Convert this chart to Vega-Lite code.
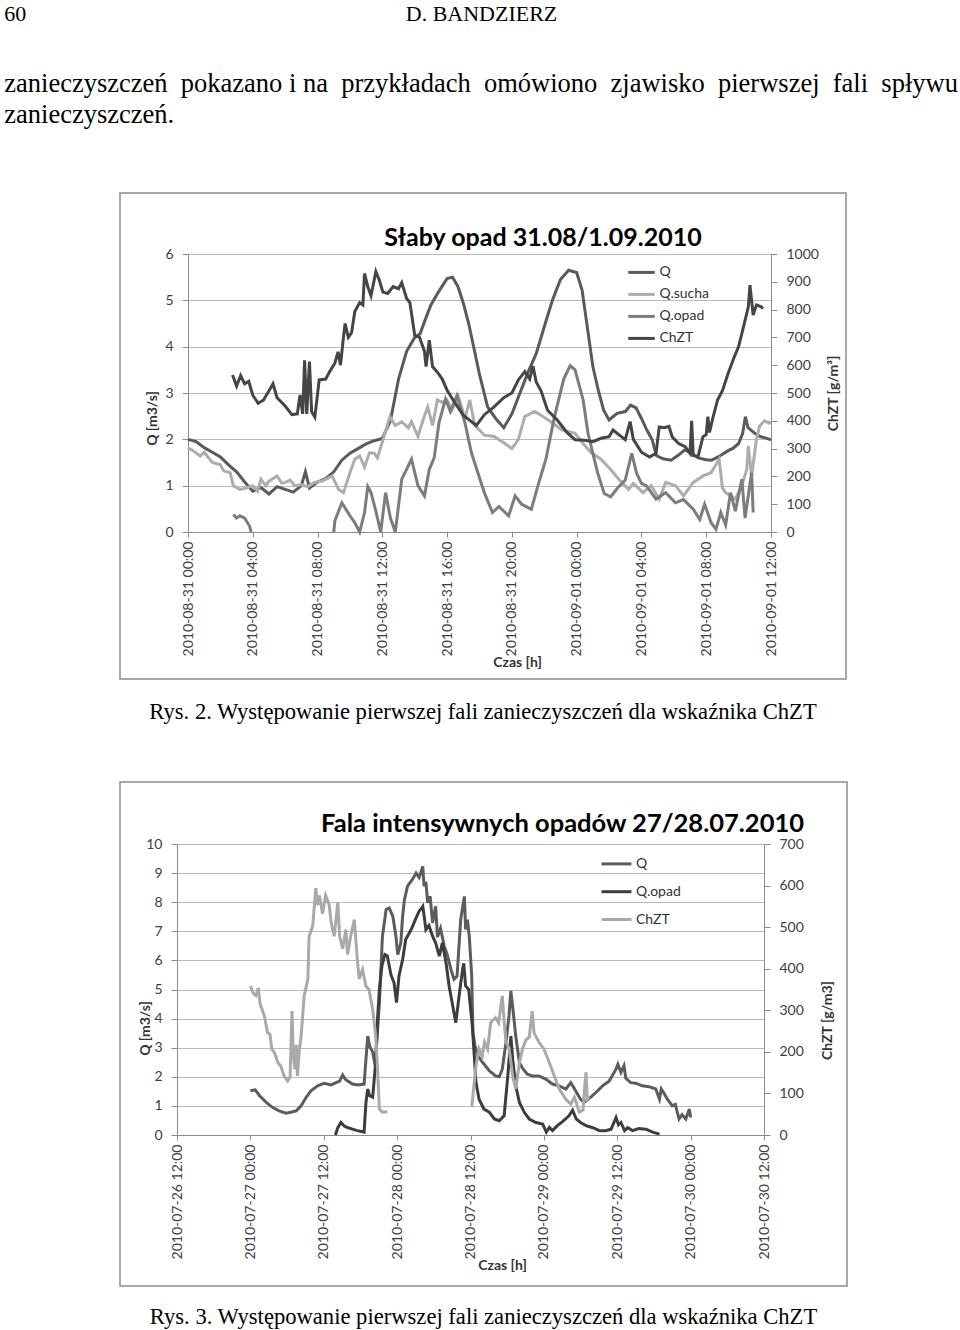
{
"$schema": "https://vega.github.io/schema/vega-lite/v6.json",
"background": "white",
"padding": {"left": 4, "top": 2, "right": 0, "bottom": 0},
"config": {
 "font": "Lato",
 "view": {"stroke": "#8c8c8c", "strokeWidth": 1.5},
 "axis": {"labelFont": "Lato", "labelFontSize": 14, "labelColor": "#404040", "titleFont": "Lato", "titleFontSize": 14, "titleFontWeight": "bold", "titleColor": "#333333", "domainColor": "#8c8c8c", "tickColor": "#8c8c8c", "gridColor": "#bababa", "tickSize": 6},
 "legend": {"labelFont": "Lato", "labelFontSize": 14, "labelColor": "#333333"},
 "line": {"strokeWidth": 3}
},
"title": {
 "text": "60\u00a0\u00a0\u00a0\u00a0\u00a0\u00a0\u00a0\u00a0\u00a0\u00a0\u00a0\u00a0\u00a0\u00a0\u00a0\u00a0\u00a0\u00a0\u00a0\u00a0\u00a0\u00a0\u00a0\u00a0\u00a0\u00a0\u00a0\u00a0\u00a0\u00a0\u00a0\u00a0\u00a0\u00a0\u00a0\u00a0\u00a0\u00a0\u00a0\u00a0\u00a0\u00a0\u00a0\u00a0\u00a0\u00a0\u00a0\u00a0\u00a0\u00a0\u00a0\u00a0\u00a0\u00a0\u00a0\u00a0\u00a0\u00a0\u00a0\u00a0\u00a0\u00a0\u00a0\u00a0\u00a0\u00a0\u00a0\u00a0\u00a0D. BANDZIERZ",
 "subtitle": ["zanieczyszczeń \u00a0pokazano i na \u00a0przykładach \u00a0omówiono \u00a0zjawisko \u00a0pierwszej \u00a0fali \u00a0spływu", "zanieczyszczeń."],
 "anchor": "start", "dx": -115,
 "font": "Liberation Serif", "fontSize": 22, "fontWeight": "normal", "color": "black",
 "subtitleFont": "Liberation Serif", "subtitleFontSize": 26.5, "subtitleColor": "black",
 "subtitleLineHeight": 31, "subtitlePadding": 45, "offset": 63
},
"spacing": 57,
"resolve": {"scale": {"color": "independent"}, "legend": {"color": "independent"}},
"datasets": {
 "d1": [
{"t":"2010-08-31T00:00","s":"Q","v":2.00},{"t":"2010-08-31T00:30","s":"Q","v":1.95},{"t":"2010-08-31T01:00","s":"Q","v":1.82},{"t":"2010-08-31T01:30","s":"Q","v":1.72},{"t":"2010-08-31T02:00","s":"Q","v":1.62},{"t":"2010-08-31T02:30","s":"Q","v":1.45},{"t":"2010-08-31T03:00","s":"Q","v":1.30},{"t":"2010-08-31T03:30","s":"Q","v":1.08},{"t":"2010-08-31T04:00","s":"Q","v":0.88},{"t":"2010-08-31T04:30","s":"Q","v":0.96},{"t":"2010-08-31T05:00","s":"Q","v":0.82},{"t":"2010-08-31T05:30","s":"Q","v":0.98},{"t":"2010-08-31T06:00","s":"Q","v":0.92},{"t":"2010-08-31T06:30","s":"Q","v":0.86},{"t":"2010-08-31T07:00","s":"Q","v":1.00},{"t":"2010-08-31T07:15","s":"Q","v":1.30},{"t":"2010-08-31T07:30","s":"Q","v":0.95},{"t":"2010-08-31T08:00","s":"Q","v":1.08},{"t":"2010-08-31T08:30","s":"Q","v":1.15},{"t":"2010-08-31T09:00","s":"Q","v":1.30},{"t":"2010-08-31T09:30","s":"Q","v":1.55},{"t":"2010-08-31T10:00","s":"Q","v":1.70},{"t":"2010-08-31T10:30","s":"Q","v":1.80},{"t":"2010-08-31T11:00","s":"Q","v":1.90},{"t":"2010-08-31T11:30","s":"Q","v":1.97},{"t":"2010-08-31T12:00","s":"Q","v":2.02},{"t":"2010-08-31T12:30","s":"Q","v":2.40},{"t":"2010-08-31T13:00","s":"Q","v":3.30},{"t":"2010-08-31T13:30","s":"Q","v":3.90},{"t":"2010-08-31T14:00","s":"Q","v":4.20},{"t":"2010-08-31T14:20","s":"Q","v":4.28},{"t":"2010-08-31T14:40","s":"Q","v":4.60},{"t":"2010-08-31T15:00","s":"Q","v":4.90},{"t":"2010-08-31T15:30","s":"Q","v":5.20},{"t":"2010-08-31T16:00","s":"Q","v":5.47},{"t":"2010-08-31T16:20","s":"Q","v":5.50},{"t":"2010-08-31T16:40","s":"Q","v":5.30},{"t":"2010-08-31T17:00","s":"Q","v":4.94},{"t":"2010-08-31T17:20","s":"Q","v":4.50},{"t":"2010-08-31T17:40","s":"Q","v":3.95},{"t":"2010-08-31T18:00","s":"Q","v":3.40},{"t":"2010-08-31T18:30","s":"Q","v":2.70},{"t":"2010-08-31T19:00","s":"Q","v":2.45},{"t":"2010-08-31T19:30","s":"Q","v":2.25},{"t":"2010-08-31T20:00","s":"Q","v":2.55},{"t":"2010-08-31T20:30","s":"Q","v":3.00},{"t":"2010-08-31T21:00","s":"Q","v":3.45},{"t":"2010-08-31T21:30","s":"Q","v":3.85},{"t":"2010-08-31T22:00","s":"Q","v":4.43},{"t":"2010-08-31T22:30","s":"Q","v":5.00},{"t":"2010-08-31T23:00","s":"Q","v":5.45},{"t":"2010-08-31T23:30","s":"Q","v":5.65},{"t":"2010-09-01T00:00","s":"Q","v":5.60},{"t":"2010-09-01T00:20","s":"Q","v":5.22},{"t":"2010-09-01T00:40","s":"Q","v":4.40},{"t":"2010-09-01T01:00","s":"Q","v":3.57},{"t":"2010-09-01T01:20","s":"Q","v":3.06},{"t":"2010-09-01T01:40","s":"Q","v":2.63},{"t":"2010-09-01T02:00","s":"Q","v":2.42},{"t":"2010-09-01T02:30","s":"Q","v":2.56},{"t":"2010-09-01T03:00","s":"Q","v":2.60},{"t":"2010-09-01T03:20","s":"Q","v":2.74},{"t":"2010-09-01T03:40","s":"Q","v":2.68},{"t":"2010-09-01T04:00","s":"Q","v":2.45},{"t":"2010-09-01T04:20","s":"Q","v":2.20},{"t":"2010-09-01T04:40","s":"Q","v":1.99},{"t":"2010-09-01T04:55","s":"Q","v":1.65},{"t":"2010-09-01T05:20","s":"Q","v":1.58},{"t":"2010-09-01T05:50","s":"Q","v":1.55},{"t":"2010-09-01T06:15","s":"Q","v":1.65},{"t":"2010-09-01T06:40","s":"Q","v":1.77},{"t":"2010-09-01T07:00","s":"Q","v":1.72},{"t":"2010-09-01T07:30","s":"Q","v":1.60},{"t":"2010-09-01T08:00","s":"Q","v":1.56},{"t":"2010-09-01T08:20","s":"Q","v":1.55},{"t":"2010-09-01T08:50","s":"Q","v":1.64},{"t":"2010-09-01T09:20","s":"Q","v":1.75},{"t":"2010-09-01T09:40","s":"Q","v":1.81},{"t":"2010-09-01T10:00","s":"Q","v":1.91},{"t":"2010-09-01T10:15","s":"Q","v":2.13},{"t":"2010-09-01T10:25","s":"Q","v":2.49},{"t":"2010-09-01T10:35","s":"Q","v":2.25},{"t":"2010-09-01T11:00","s":"Q","v":2.13},{"t":"2010-09-01T11:20","s":"Q","v":2.06},{"t":"2010-09-01T11:45","s":"Q","v":2.02},{"t":"2010-09-01T12:00","s":"Q","v":1.99},
{"t":"2010-08-31T00:00","s":"Q.sucha","v":1.82},{"t":"2010-08-31T00:20","s":"Q.sucha","v":1.75},{"t":"2010-08-31T00:45","s":"Q.sucha","v":1.64},{"t":"2010-08-31T01:00","s":"Q.sucha","v":1.72},{"t":"2010-08-31T01:30","s":"Q.sucha","v":1.50},{"t":"2010-08-31T02:00","s":"Q.sucha","v":1.45},{"t":"2010-08-31T02:12","s":"Q.sucha","v":1.32},{"t":"2010-08-31T02:36","s":"Q.sucha","v":1.28},{"t":"2010-08-31T02:48","s":"Q.sucha","v":1.00},{"t":"2010-08-31T03:12","s":"Q.sucha","v":0.92},{"t":"2010-08-31T03:36","s":"Q.sucha","v":0.95},{"t":"2010-08-31T04:00","s":"Q.sucha","v":1.00},{"t":"2010-08-31T04:18","s":"Q.sucha","v":0.88},{"t":"2010-08-31T04:30","s":"Q.sucha","v":1.14},{"t":"2010-08-31T04:48","s":"Q.sucha","v":1.00},{"t":"2010-08-31T05:00","s":"Q.sucha","v":1.10},{"t":"2010-08-31T05:30","s":"Q.sucha","v":1.21},{"t":"2010-08-31T05:48","s":"Q.sucha","v":1.05},{"t":"2010-08-31T06:00","s":"Q.sucha","v":1.07},{"t":"2010-08-31T06:18","s":"Q.sucha","v":1.12},{"t":"2010-08-31T06:36","s":"Q.sucha","v":1.00},{"t":"2010-08-31T07:00","s":"Q.sucha","v":1.02},{"t":"2010-08-31T07:24","s":"Q.sucha","v":0.98},{"t":"2010-08-31T07:48","s":"Q.sucha","v":1.07},{"t":"2010-08-31T08:18","s":"Q.sucha","v":1.10},{"t":"2010-08-31T08:54","s":"Q.sucha","v":1.21},{"t":"2010-08-31T09:18","s":"Q.sucha","v":0.92},{"t":"2010-08-31T09:36","s":"Q.sucha","v":0.85},{"t":"2010-08-31T10:00","s":"Q.sucha","v":1.28},{"t":"2010-08-31T10:18","s":"Q.sucha","v":1.57},{"t":"2010-08-31T10:36","s":"Q.sucha","v":1.64},{"t":"2010-08-31T10:54","s":"Q.sucha","v":1.40},{"t":"2010-08-31T11:12","s":"Q.sucha","v":1.71},{"t":"2010-08-31T11:30","s":"Q.sucha","v":1.70},{"t":"2010-08-31T11:42","s":"Q.sucha","v":1.60},{"t":"2010-08-31T12:06","s":"Q.sucha","v":2.06},{"t":"2010-08-31T12:28","s":"Q.sucha","v":2.49},{"t":"2010-08-31T12:48","s":"Q.sucha","v":2.30},{"t":"2010-08-31T13:12","s":"Q.sucha","v":2.38},{"t":"2010-08-31T13:36","s":"Q.sucha","v":2.25},{"t":"2010-08-31T13:48","s":"Q.sucha","v":2.38},{"t":"2010-08-31T14:12","s":"Q.sucha","v":2.06},{"t":"2010-08-31T14:30","s":"Q.sucha","v":2.40},{"t":"2010-08-31T14:48","s":"Q.sucha","v":2.70},{"t":"2010-08-31T15:06","s":"Q.sucha","v":2.30},{"t":"2010-08-31T15:24","s":"Q.sucha","v":2.85},{"t":"2010-08-31T15:42","s":"Q.sucha","v":2.80},{"t":"2010-08-31T16:00","s":"Q.sucha","v":2.85},{"t":"2010-08-31T16:18","s":"Q.sucha","v":2.63},{"t":"2010-08-31T16:42","s":"Q.sucha","v":2.92},{"t":"2010-08-31T17:06","s":"Q.sucha","v":2.45},{"t":"2010-08-31T17:24","s":"Q.sucha","v":2.85},{"t":"2010-08-31T17:42","s":"Q.sucha","v":2.31},{"t":"2010-08-31T18:18","s":"Q.sucha","v":2.09},{"t":"2010-08-31T18:54","s":"Q.sucha","v":2.06},{"t":"2010-08-31T19:34","s":"Q.sucha","v":1.91},{"t":"2010-08-31T20:00","s":"Q.sucha","v":1.80},{"t":"2010-08-31T20:24","s":"Q.sucha","v":2.00},{"t":"2010-08-31T20:48","s":"Q.sucha","v":2.49},{"t":"2010-08-31T21:24","s":"Q.sucha","v":2.60},{"t":"2010-08-31T21:48","s":"Q.sucha","v":2.52},{"t":"2010-08-31T22:24","s":"Q.sucha","v":2.38},{"t":"2010-08-31T23:06","s":"Q.sucha","v":2.20},{"t":"2010-08-31T23:54","s":"Q.sucha","v":2.13},{"t":"2010-09-01T00:18","s":"Q.sucha","v":1.95},{"t":"2010-09-01T00:54","s":"Q.sucha","v":1.71},{"t":"2010-09-01T01:30","s":"Q.sucha","v":1.57},{"t":"2010-09-01T02:06","s":"Q.sucha","v":1.35},{"t":"2010-09-01T02:36","s":"Q.sucha","v":1.14},{"t":"2010-09-01T03:12","s":"Q.sucha","v":0.92},{"t":"2010-09-01T03:30","s":"Q.sucha","v":1.05},{"t":"2010-09-01T04:06","s":"Q.sucha","v":0.85},{"t":"2010-09-01T04:36","s":"Q.sucha","v":1.00},{"t":"2010-09-01T05:06","s":"Q.sucha","v":0.71},{"t":"2010-09-01T05:30","s":"Q.sucha","v":1.07},{"t":"2010-09-01T06:06","s":"Q.sucha","v":1.00},{"t":"2010-09-01T06:36","s":"Q.sucha","v":0.78},{"t":"2010-09-01T07:12","s":"Q.sucha","v":1.07},{"t":"2010-09-01T07:48","s":"Q.sucha","v":1.21},{"t":"2010-09-01T08:18","s":"Q.sucha","v":1.28},{"t":"2010-09-01T08:48","s":"Q.sucha","v":1.57},{"t":"2010-09-01T09:00","s":"Q.sucha","v":0.95},{"t":"2010-09-01T09:12","s":"Q.sucha","v":0.85},{"t":"2010-09-01T09:48","s":"Q.sucha","v":0.71},{"t":"2010-09-01T10:12","s":"Q.sucha","v":1.00},{"t":"2010-09-01T10:30","s":"Q.sucha","v":1.35},{"t":"2010-09-01T10:36","s":"Q.sucha","v":1.86},{"t":"2010-09-01T10:48","s":"Q.sucha","v":1.20},{"t":"2010-09-01T11:06","s":"Q.sucha","v":2.00},{"t":"2010-09-01T11:18","s":"Q.sucha","v":2.29},{"t":"2010-09-01T11:36","s":"Q.sucha","v":2.40},{"t":"2010-09-01T11:54","s":"Q.sucha","v":2.35},{"t":"2010-09-01T12:00","s":"Q.sucha","v":2.38},
{"t":"2010-08-31T02:48","s":"Q.opad","v":0.38,"g":1},{"t":"2010-08-31T03:00","s":"Q.opad","v":0.30,"g":1},{"t":"2010-08-31T03:12","s":"Q.opad","v":0.35,"g":1},{"t":"2010-08-31T03:30","s":"Q.opad","v":0.30,"g":1},{"t":"2010-08-31T03:48","s":"Q.opad","v":0.13,"g":1},{"t":"2010-08-31T03:54","s":"Q.opad","v":0.00,"g":1},
{"t":"2010-08-31T09:00","s":"Q.opad","v":0.00,"g":2},{"t":"2010-08-31T09:04","s":"Q.opad","v":0.24,"g":2},{"t":"2010-08-31T09:30","s":"Q.opad","v":0.63,"g":2},{"t":"2010-08-31T10:00","s":"Q.opad","v":0.35,"g":2},{"t":"2010-08-31T10:18","s":"Q.opad","v":0.20,"g":2},{"t":"2010-08-31T10:36","s":"Q.opad","v":0.00,"g":2},{"t":"2010-08-31T10:54","s":"Q.opad","v":0.42,"g":2},{"t":"2010-08-31T11:06","s":"Q.opad","v":0.98,"g":2},{"t":"2010-08-31T11:18","s":"Q.opad","v":0.85,"g":2},{"t":"2010-08-31T11:36","s":"Q.opad","v":0.45,"g":2},{"t":"2010-08-31T11:54","s":"Q.opad","v":0.00,"g":2},{"t":"2010-08-31T12:12","s":"Q.opad","v":0.85,"g":2},{"t":"2010-08-31T12:30","s":"Q.opad","v":0.30,"g":2},{"t":"2010-08-31T12:48","s":"Q.opad","v":0.00,"g":2},{"t":"2010-08-31T13:12","s":"Q.opad","v":1.14,"g":2},{"t":"2010-08-31T13:48","s":"Q.opad","v":1.57,"g":2},{"t":"2010-08-31T14:12","s":"Q.opad","v":1.00,"g":2},{"t":"2010-08-31T14:36","s":"Q.opad","v":0.78,"g":2},{"t":"2010-08-31T14:54","s":"Q.opad","v":1.35,"g":2},{"t":"2010-08-31T15:12","s":"Q.opad","v":1.60,"g":2},{"t":"2010-08-31T15:30","s":"Q.opad","v":2.36,"g":2},{"t":"2010-08-31T15:54","s":"Q.opad","v":2.87,"g":2},{"t":"2010-08-31T16:12","s":"Q.opad","v":2.60,"g":2},{"t":"2010-08-31T16:36","s":"Q.opad","v":2.94,"g":2},{"t":"2010-08-31T17:06","s":"Q.opad","v":2.36,"g":2},{"t":"2010-08-31T17:30","s":"Q.opad","v":1.71,"g":2},{"t":"2010-08-31T17:54","s":"Q.opad","v":1.28,"g":2},{"t":"2010-08-31T18:18","s":"Q.opad","v":0.85,"g":2},{"t":"2010-08-31T18:48","s":"Q.opad","v":0.42,"g":2},{"t":"2010-08-31T19:12","s":"Q.opad","v":0.55,"g":2},{"t":"2010-08-31T19:48","s":"Q.opad","v":0.35,"g":2},{"t":"2010-08-31T20:12","s":"Q.opad","v":0.78,"g":2},{"t":"2010-08-31T20:36","s":"Q.opad","v":0.60,"g":2},{"t":"2010-08-31T21:12","s":"Q.opad","v":0.49,"g":2},{"t":"2010-08-31T21:36","s":"Q.opad","v":0.99,"g":2},{"t":"2010-08-31T22:06","s":"Q.opad","v":1.57,"g":2},{"t":"2010-08-31T22:36","s":"Q.opad","v":2.44,"g":2},{"t":"2010-08-31T23:12","s":"Q.opad","v":3.30,"g":2},{"t":"2010-08-31T23:36","s":"Q.opad","v":3.59,"g":2},{"t":"2010-08-31T23:54","s":"Q.opad","v":3.50,"g":2},{"t":"2010-09-01T00:24","s":"Q.opad","v":2.85,"g":2},{"t":"2010-09-01T00:42","s":"Q.opad","v":2.13,"g":2},{"t":"2010-09-01T01:00","s":"Q.opad","v":1.70,"g":2},{"t":"2010-09-01T01:18","s":"Q.opad","v":1.27,"g":2},{"t":"2010-09-01T01:42","s":"Q.opad","v":0.83,"g":2},{"t":"2010-09-01T02:06","s":"Q.opad","v":0.76,"g":2},{"t":"2010-09-01T02:36","s":"Q.opad","v":0.98,"g":2},{"t":"2010-09-01T03:00","s":"Q.opad","v":1.12,"g":2},{"t":"2010-09-01T03:24","s":"Q.opad","v":1.70,"g":2},{"t":"2010-09-01T03:42","s":"Q.opad","v":1.27,"g":2},{"t":"2010-09-01T04:00","s":"Q.opad","v":1.05,"g":2},{"t":"2010-09-01T04:18","s":"Q.opad","v":1.00,"g":2},{"t":"2010-09-01T04:54","s":"Q.opad","v":0.71,"g":2},{"t":"2010-09-01T05:30","s":"Q.opad","v":0.85,"g":2},{"t":"2010-09-01T06:06","s":"Q.opad","v":0.63,"g":2},{"t":"2010-09-01T06:36","s":"Q.opad","v":0.70,"g":2},{"t":"2010-09-01T07:12","s":"Q.opad","v":0.49,"g":2},{"t":"2010-09-01T07:36","s":"Q.opad","v":0.27,"g":2},{"t":"2010-09-01T07:54","s":"Q.opad","v":0.60,"g":2},{"t":"2010-09-01T08:18","s":"Q.opad","v":0.20,"g":2},{"t":"2010-09-01T08:36","s":"Q.opad","v":0.06,"g":2},{"t":"2010-09-01T08:54","s":"Q.opad","v":0.42,"g":2},{"t":"2010-09-01T09:12","s":"Q.opad","v":0.15,"g":2},{"t":"2010-09-01T09:30","s":"Q.opad","v":0.85,"g":2},{"t":"2010-09-01T09:48","s":"Q.opad","v":0.45,"g":2},{"t":"2010-09-01T10:12","s":"Q.opad","v":1.14,"g":2},{"t":"2010-09-01T10:24","s":"Q.opad","v":0.30,"g":2},{"t":"2010-09-01T10:48","s":"Q.opad","v":1.28,"g":2},{"t":"2010-09-01T10:54","s":"Q.opad","v":0.42,"g":2},
{"t":"2010-08-31T02:45","s":"ChZT","v":565},{"t":"2010-08-31T03:00","s":"ChZT","v":525},{"t":"2010-08-31T03:15","s":"ChZT","v":563},{"t":"2010-08-31T03:30","s":"ChZT","v":533},{"t":"2010-08-31T03:45","s":"ChZT","v":542},{"t":"2010-08-31T04:00","s":"ChZT","v":492},{"t":"2010-08-31T04:20","s":"ChZT","v":463},{"t":"2010-08-31T04:40","s":"ChZT","v":475},{"t":"2010-08-31T05:00","s":"ChZT","v":508},{"t":"2010-08-31T05:15","s":"ChZT","v":533},{"t":"2010-08-31T05:30","s":"ChZT","v":483},{"t":"2010-08-31T06:00","s":"ChZT","v":453},{"t":"2010-08-31T06:25","s":"ChZT","v":422},{"t":"2010-08-31T06:45","s":"ChZT","v":425},{"t":"2010-08-31T06:55","s":"ChZT","v":493},{"t":"2010-08-31T07:05","s":"ChZT","v":425},{"t":"2010-08-31T07:12","s":"ChZT","v":618},{"t":"2010-08-31T07:20","s":"ChZT","v":425},{"t":"2010-08-31T07:30","s":"ChZT","v":613},{"t":"2010-08-31T07:38","s":"ChZT","v":433},{"t":"2010-08-31T07:50","s":"ChZT","v":413},{"t":"2010-08-31T08:06","s":"ChZT","v":547},{"t":"2010-08-31T08:30","s":"ChZT","v":550},{"t":"2010-08-31T08:45","s":"ChZT","v":577},{"t":"2010-08-31T09:04","s":"ChZT","v":607},{"t":"2010-08-31T09:16","s":"ChZT","v":648},{"t":"2010-08-31T09:25","s":"ChZT","v":600},{"t":"2010-08-31T09:35","s":"ChZT","v":692},{"t":"2010-08-31T09:42","s":"ChZT","v":750},{"t":"2010-08-31T09:54","s":"ChZT","v":700},{"t":"2010-08-31T10:06","s":"ChZT","v":717},{"t":"2010-08-31T10:18","s":"ChZT","v":793},{"t":"2010-08-31T10:36","s":"ChZT","v":825},{"t":"2010-08-31T10:48","s":"ChZT","v":817},{"t":"2010-08-31T10:54","s":"ChZT","v":930},{"t":"2010-08-31T11:06","s":"ChZT","v":883},{"t":"2010-08-31T11:18","s":"ChZT","v":850},{"t":"2010-08-31T11:30","s":"ChZT","v":907},{"t":"2010-08-31T11:36","s":"ChZT","v":937},{"t":"2010-08-31T11:48","s":"ChZT","v":908},{"t":"2010-08-31T12:02","s":"ChZT","v":863},{"t":"2010-08-31T12:20","s":"ChZT","v":858},{"t":"2010-08-31T12:40","s":"ChZT","v":883},{"t":"2010-08-31T13:00","s":"ChZT","v":875},{"t":"2010-08-31T13:12","s":"ChZT","v":897},{"t":"2010-08-31T13:30","s":"ChZT","v":840},{"t":"2010-08-31T13:42","s":"ChZT","v":825},{"t":"2010-08-31T14:00","s":"ChZT","v":708},{"t":"2010-08-31T14:18","s":"ChZT","v":700},{"t":"2010-08-31T14:36","s":"ChZT","v":650},{"t":"2010-08-31T14:42","s":"ChZT","v":595},{"t":"2010-08-31T14:54","s":"ChZT","v":690},{"t":"2010-08-31T15:06","s":"ChZT","v":595},{"t":"2010-08-31T15:24","s":"ChZT","v":575},{"t":"2010-08-31T15:42","s":"ChZT","v":550},{"t":"2010-08-31T16:00","s":"ChZT","v":510},{"t":"2010-08-31T16:30","s":"ChZT","v":463},{"t":"2010-08-31T17:00","s":"ChZT","v":420},{"t":"2010-08-31T17:30","s":"ChZT","v":397},{"t":"2010-08-31T17:48","s":"ChZT","v":383},{"t":"2010-08-31T18:18","s":"ChZT","v":422},{"t":"2010-08-31T18:54","s":"ChZT","v":450},{"t":"2010-08-31T19:30","s":"ChZT","v":483},{"t":"2010-08-31T20:00","s":"ChZT","v":500},{"t":"2010-08-31T20:24","s":"ChZT","v":547},{"t":"2010-08-31T20:48","s":"ChZT","v":577},{"t":"2010-08-31T21:06","s":"ChZT","v":550},{"t":"2010-08-31T21:18","s":"ChZT","v":597},{"t":"2010-08-31T21:30","s":"ChZT","v":540},{"t":"2010-08-31T21:48","s":"ChZT","v":508},{"t":"2010-08-31T22:12","s":"ChZT","v":438},{"t":"2010-08-31T22:48","s":"ChZT","v":403},{"t":"2010-08-31T23:24","s":"ChZT","v":358},{"t":"2010-08-31T23:54","s":"ChZT","v":332},{"t":"2010-09-01T00:30","s":"ChZT","v":330},{"t":"2010-09-01T01:00","s":"ChZT","v":325},{"t":"2010-09-01T01:30","s":"ChZT","v":337},{"t":"2010-09-01T02:00","s":"ChZT","v":343},{"t":"2010-09-01T02:15","s":"ChZT","v":367},{"t":"2010-09-01T02:36","s":"ChZT","v":350},{"t":"2010-09-01T03:00","s":"ChZT","v":332},{"t":"2010-09-01T03:18","s":"ChZT","v":397},{"t":"2010-09-01T03:30","s":"ChZT","v":333},{"t":"2010-09-01T04:00","s":"ChZT","v":287},{"t":"2010-09-01T04:30","s":"ChZT","v":270},{"t":"2010-09-01T04:54","s":"ChZT","v":283},{"t":"2010-09-01T05:06","s":"ChZT","v":378},{"t":"2010-09-01T05:24","s":"ChZT","v":375},{"t":"2010-09-01T05:42","s":"ChZT","v":380},{"t":"2010-09-01T05:54","s":"ChZT","v":342},{"t":"2010-09-01T06:18","s":"ChZT","v":318},{"t":"2010-09-01T06:42","s":"ChZT","v":307},{"t":"2010-09-01T07:00","s":"ChZT","v":283},{"t":"2010-09-01T07:06","s":"ChZT","v":400},{"t":"2010-09-01T07:12","s":"ChZT","v":275},{"t":"2010-09-01T07:30","s":"ChZT","v":272},{"t":"2010-09-01T07:48","s":"ChZT","v":343},{"t":"2010-09-01T08:00","s":"ChZT","v":350},{"t":"2010-09-01T08:06","s":"ChZT","v":415},{"t":"2010-09-01T08:12","s":"ChZT","v":358},{"t":"2010-09-01T08:24","s":"ChZT","v":408},{"t":"2010-09-01T08:42","s":"ChZT","v":475},{"t":"2010-09-01T09:00","s":"ChZT","v":508},{"t":"2010-09-01T09:21","s":"ChZT","v":570},{"t":"2010-09-01T09:42","s":"ChZT","v":625},{"t":"2010-09-01T10:00","s":"ChZT","v":667},{"t":"2010-09-01T10:18","s":"ChZT","v":738},{"t":"2010-09-01T10:36","s":"ChZT","v":810},{"t":"2010-09-01T10:42","s":"ChZT","v":888},{"t":"2010-09-01T10:54","s":"ChZT","v":780},{"t":"2010-09-01T11:06","s":"ChZT","v":817},{"t":"2010-09-01T11:24","s":"ChZT","v":810},{"t":"2010-09-01T11:30","s":"ChZT","v":803}
 ],
 "d2": [
{"t":"2010-07-27T00:00","s":"Q","v":1.52},{"t":"2010-07-27T00:48","s":"Q","v":1.55},{"t":"2010-07-27T01:30","s":"Q","v":1.35},{"t":"2010-07-27T02:36","s":"Q","v":1.12},{"t":"2010-07-27T03:36","s":"Q","v":0.95},{"t":"2010-07-27T04:42","s":"Q","v":0.83},{"t":"2010-07-27T05:48","s":"Q","v":0.75},{"t":"2010-07-27T06:36","s":"Q","v":0.78},{"t":"2010-07-27T07:30","s":"Q","v":0.83},{"t":"2010-07-27T08:18","s":"Q","v":1.00},{"t":"2010-07-27T09:06","s":"Q","v":1.29},{"t":"2010-07-27T09:54","s":"Q","v":1.52},{"t":"2010-07-27T11:00","s":"Q","v":1.69},{"t":"2010-07-27T12:06","s":"Q","v":1.78},{"t":"2010-07-27T13:12","s":"Q","v":1.72},{"t":"2010-07-27T14:00","s":"Q","v":1.80},{"t":"2010-07-27T14:36","s":"Q","v":1.85},{"t":"2010-07-27T15:06","s":"Q","v":2.06},{"t":"2010-07-27T15:36","s":"Q","v":1.90},{"t":"2010-07-27T16:42","s":"Q","v":1.75},{"t":"2010-07-27T17:36","s":"Q","v":1.72},{"t":"2010-07-27T18:36","s":"Q","v":1.75},{"t":"2010-07-27T18:54","s":"Q","v":2.60},{"t":"2010-07-27T19:12","s":"Q","v":3.40},{"t":"2010-07-27T19:30","s":"Q","v":3.05},{"t":"2010-07-27T20:00","s":"Q","v":2.85},{"t":"2010-07-27T20:24","s":"Q","v":2.40},{"t":"2010-07-27T20:48","s":"Q","v":3.60},{"t":"2010-07-27T21:06","s":"Q","v":4.55},{"t":"2010-07-27T21:36","s":"Q","v":6.83},{"t":"2010-07-27T22:12","s":"Q","v":7.75},{"t":"2010-07-27T22:42","s":"Q","v":7.80},{"t":"2010-07-27T23:18","s":"Q","v":7.52},{"t":"2010-07-27T23:48","s":"Q","v":6.83},{"t":"2010-07-28T00:06","s":"Q","v":6.20},{"t":"2010-07-28T00:36","s":"Q","v":6.60},{"t":"2010-07-28T00:54","s":"Q","v":7.52},{"t":"2010-07-28T01:12","s":"Q","v":8.09},{"t":"2010-07-28T01:42","s":"Q","v":8.55},{"t":"2010-07-28T02:30","s":"Q","v":8.78},{"t":"2010-07-28T03:06","s":"Q","v":9.00},{"t":"2010-07-28T03:36","s":"Q","v":8.85},{"t":"2010-07-28T04:12","s":"Q","v":9.23},{"t":"2010-07-28T04:24","s":"Q","v":8.55},{"t":"2010-07-28T04:42","s":"Q","v":8.70},{"t":"2010-07-28T05:00","s":"Q","v":7.98},{"t":"2010-07-28T05:24","s":"Q","v":8.20},{"t":"2010-07-28T05:48","s":"Q","v":7.29},{"t":"2010-07-28T06:18","s":"Q","v":7.86},{"t":"2010-07-28T06:36","s":"Q","v":6.80},{"t":"2010-07-28T07:06","s":"Q","v":7.10},{"t":"2010-07-28T07:42","s":"Q","v":6.49},{"t":"2010-07-28T08:12","s":"Q","v":6.20},{"t":"2010-07-28T08:48","s":"Q","v":5.69},{"t":"2010-07-28T09:18","s":"Q","v":5.35},{"t":"2010-07-28T09:48","s":"Q","v":5.45},{"t":"2010-07-28T10:24","s":"Q","v":7.41},{"t":"2010-07-28T11:00","s":"Q","v":8.20},{"t":"2010-07-28T11:12","s":"Q","v":7.06},{"t":"2010-07-28T11:30","s":"Q","v":7.40},{"t":"2010-07-28T11:48","s":"Q","v":6.83},{"t":"2010-07-28T12:12","s":"Q","v":5.46},{"t":"2010-07-28T12:24","s":"Q","v":3.52},{"t":"2010-07-28T12:42","s":"Q","v":3.10},{"t":"2010-07-28T13:12","s":"Q","v":2.72},{"t":"2010-07-28T14:00","s":"Q","v":2.49},{"t":"2010-07-28T15:06","s":"Q","v":2.20},{"t":"2010-07-28T16:06","s":"Q","v":2.03},{"t":"2010-07-28T16:42","s":"Q","v":2.00},{"t":"2010-07-28T17:12","s":"Q","v":2.26},{"t":"2010-07-28T17:48","s":"Q","v":3.18},{"t":"2010-07-28T18:18","s":"Q","v":4.09},{"t":"2010-07-28T18:36","s":"Q","v":4.95},{"t":"2010-07-28T18:54","s":"Q","v":4.40},{"t":"2010-07-28T19:24","s":"Q","v":3.40},{"t":"2010-07-28T20:00","s":"Q","v":2.49},{"t":"2010-07-28T20:30","s":"Q","v":2.30},{"t":"2010-07-28T21:18","s":"Q","v":2.09},{"t":"2010-07-28T22:06","s":"Q","v":2.03},{"t":"2010-07-28T23:12","s":"Q","v":2.03},{"t":"2010-07-29T00:18","s":"Q","v":1.92},{"t":"2010-07-29T01:24","s":"Q","v":1.75},{"t":"2010-07-29T02:30","s":"Q","v":1.69},{"t":"2010-07-29T03:36","s":"Q","v":1.58},{"t":"2010-07-29T04:24","s":"Q","v":1.80},{"t":"2010-07-29T04:54","s":"Q","v":1.62},{"t":"2010-07-29T06:00","s":"Q","v":1.23},{"t":"2010-07-29T06:36","s":"Q","v":1.12},{"t":"2010-07-29T07:24","s":"Q","v":1.25},{"t":"2010-07-29T08:30","s":"Q","v":1.46},{"t":"2010-07-29T09:36","s":"Q","v":1.69},{"t":"2010-07-29T10:42","s":"Q","v":1.86},{"t":"2010-07-29T11:48","s":"Q","v":2.26},{"t":"2010-07-29T12:06","s":"Q","v":2.43},{"t":"2010-07-29T12:36","s":"Q","v":2.15},{"t":"2010-07-29T13:06","s":"Q","v":2.38},{"t":"2010-07-29T13:24","s":"Q","v":1.95},{"t":"2010-07-29T14:12","s":"Q","v":1.80},{"t":"2010-07-29T15:00","s":"Q","v":1.78},{"t":"2010-07-29T16:06","s":"Q","v":1.69},{"t":"2010-07-29T17:12","s":"Q","v":1.66},{"t":"2010-07-29T18:18","s":"Q","v":1.58},{"t":"2010-07-29T18:54","s":"Q","v":1.23},{"t":"2010-07-29T19:12","s":"Q","v":1.58},{"t":"2010-07-29T19:36","s":"Q","v":1.45},{"t":"2010-07-29T20:12","s":"Q","v":1.23},{"t":"2010-07-29T21:00","s":"Q","v":1.00},{"t":"2010-07-29T21:30","s":"Q","v":1.05},{"t":"2010-07-29T22:06","s":"Q","v":0.55},{"t":"2010-07-29T22:36","s":"Q","v":0.70},{"t":"2010-07-29T23:12","s":"Q","v":0.55},{"t":"2010-07-29T23:48","s":"Q","v":0.89},{"t":"2010-07-30T00:00","s":"Q","v":0.60},
{"t":"2010-07-27T13:54","s":"Q.opad","v":0.00},{"t":"2010-07-27T14:18","s":"Q.opad","v":0.25},{"t":"2010-07-27T14:48","s":"Q.opad","v":0.43},{"t":"2010-07-27T15:24","s":"Q.opad","v":0.30},{"t":"2010-07-27T16:00","s":"Q.opad","v":0.25},{"t":"2010-07-27T16:42","s":"Q.opad","v":0.20},{"t":"2010-07-27T17:30","s":"Q.opad","v":0.15},{"t":"2010-07-27T18:36","s":"Q.opad","v":0.10},{"t":"2010-07-27T18:54","s":"Q.opad","v":1.12},{"t":"2010-07-27T19:12","s":"Q.opad","v":1.58},{"t":"2010-07-27T19:30","s":"Q.opad","v":1.35},{"t":"2010-07-27T20:00","s":"Q.opad","v":1.30},{"t":"2010-07-27T20:30","s":"Q.opad","v":2.50},{"t":"2010-07-27T20:48","s":"Q.opad","v":4.00},{"t":"2010-07-27T21:06","s":"Q.opad","v":5.00},{"t":"2010-07-27T21:30","s":"Q.opad","v":5.80},{"t":"2010-07-27T22:00","s":"Q.opad","v":6.20},{"t":"2010-07-27T22:24","s":"Q.opad","v":6.15},{"t":"2010-07-27T23:00","s":"Q.opad","v":5.50},{"t":"2010-07-27T23:30","s":"Q.opad","v":5.23},{"t":"2010-07-27T23:54","s":"Q.opad","v":4.55},{"t":"2010-07-28T00:18","s":"Q.opad","v":5.46},{"t":"2010-07-28T00:54","s":"Q.opad","v":6.03},{"t":"2010-07-28T01:24","s":"Q.opad","v":6.72},{"t":"2010-07-28T02:18","s":"Q.opad","v":7.06},{"t":"2010-07-28T03:06","s":"Q.opad","v":7.46},{"t":"2010-07-28T03:36","s":"Q.opad","v":7.69},{"t":"2010-07-28T04:12","s":"Q.opad","v":7.86},{"t":"2010-07-28T04:30","s":"Q.opad","v":7.40},{"t":"2010-07-28T04:42","s":"Q.opad","v":7.06},{"t":"2010-07-28T05:12","s":"Q.opad","v":7.20},{"t":"2010-07-28T05:48","s":"Q.opad","v":6.83},{"t":"2010-07-28T06:18","s":"Q.opad","v":6.60},{"t":"2010-07-28T06:54","s":"Q.opad","v":6.15},{"t":"2010-07-28T07:24","s":"Q.opad","v":6.60},{"t":"2010-07-28T08:00","s":"Q.opad","v":5.92},{"t":"2010-07-28T08:30","s":"Q.opad","v":5.12},{"t":"2010-07-28T09:06","s":"Q.opad","v":4.43},{"t":"2010-07-28T09:36","s":"Q.opad","v":3.86},{"t":"2010-07-28T10:12","s":"Q.opad","v":4.89},{"t":"2010-07-28T10:42","s":"Q.opad","v":5.69},{"t":"2010-07-28T10:54","s":"Q.opad","v":5.90},{"t":"2010-07-28T11:12","s":"Q.opad","v":5.12},{"t":"2010-07-28T11:42","s":"Q.opad","v":5.00},{"t":"2010-07-28T12:18","s":"Q.opad","v":3.75},{"t":"2010-07-28T12:54","s":"Q.opad","v":1.80},{"t":"2010-07-28T13:24","s":"Q.opad","v":1.23},{"t":"2010-07-28T14:12","s":"Q.opad","v":0.89},{"t":"2010-07-28T15:06","s":"Q.opad","v":0.78},{"t":"2010-07-28T15:54","s":"Q.opad","v":0.55},{"t":"2010-07-28T16:42","s":"Q.opad","v":0.49},{"t":"2010-07-28T17:30","s":"Q.opad","v":0.66},{"t":"2010-07-28T18:06","s":"Q.opad","v":2.03},{"t":"2010-07-28T18:36","s":"Q.opad","v":3.40},{"t":"2010-07-28T18:54","s":"Q.opad","v":2.60},{"t":"2010-07-28T19:24","s":"Q.opad","v":1.69},{"t":"2010-07-28T20:00","s":"Q.opad","v":1.12},{"t":"2010-07-28T20:48","s":"Q.opad","v":0.78},{"t":"2010-07-28T21:36","s":"Q.opad","v":0.55},{"t":"2010-07-28T22:42","s":"Q.opad","v":0.43},{"t":"2010-07-28T23:48","s":"Q.opad","v":0.38},{"t":"2010-07-29T00:24","s":"Q.opad","v":0.10},{"t":"2010-07-29T00:54","s":"Q.opad","v":0.26},{"t":"2010-07-29T01:24","s":"Q.opad","v":0.15},{"t":"2010-07-29T02:12","s":"Q.opad","v":0.32},{"t":"2010-07-29T03:00","s":"Q.opad","v":0.45},{"t":"2010-07-29T04:06","s":"Q.opad","v":0.66},{"t":"2010-07-29T04:42","s":"Q.opad","v":0.85},{"t":"2010-07-29T05:18","s":"Q.opad","v":0.55},{"t":"2010-07-29T06:00","s":"Q.opad","v":0.43},{"t":"2010-07-29T06:54","s":"Q.opad","v":0.32},{"t":"2010-07-29T08:00","s":"Q.opad","v":0.25},{"t":"2010-07-29T09:06","s":"Q.opad","v":0.15},{"t":"2010-07-29T10:06","s":"Q.opad","v":0.15},{"t":"2010-07-29T11:00","s":"Q.opad","v":0.20},{"t":"2010-07-29T11:48","s":"Q.opad","v":0.60},{"t":"2010-07-29T12:12","s":"Q.opad","v":0.35},{"t":"2010-07-29T12:36","s":"Q.opad","v":0.43},{"t":"2010-07-29T13:12","s":"Q.opad","v":0.15},{"t":"2010-07-29T13:42","s":"Q.opad","v":0.25},{"t":"2010-07-29T14:30","s":"Q.opad","v":0.15},{"t":"2010-07-29T15:30","s":"Q.opad","v":0.22},{"t":"2010-07-29T16:42","s":"Q.opad","v":0.20},{"t":"2010-07-29T17:48","s":"Q.opad","v":0.10},{"t":"2010-07-29T18:54","s":"Q.opad","v":0.03},
{"t":"2010-07-27T00:00","s":"ChZT","v":358,"g":1},{"t":"2010-07-27T00:30","s":"ChZT","v":340,"g":1},{"t":"2010-07-27T00:54","s":"ChZT","v":335,"g":1},{"t":"2010-07-27T01:18","s":"ChZT","v":354,"g":1},{"t":"2010-07-27T01:36","s":"ChZT","v":315,"g":1},{"t":"2010-07-27T02:18","s":"ChZT","v":286,"g":1},{"t":"2010-07-27T02:48","s":"ChZT","v":246,"g":1},{"t":"2010-07-27T03:12","s":"ChZT","v":242,"g":1},{"t":"2010-07-27T03:30","s":"ChZT","v":207,"g":1},{"t":"2010-07-27T04:00","s":"ChZT","v":196,"g":1},{"t":"2010-07-27T04:30","s":"ChZT","v":174,"g":1},{"t":"2010-07-27T05:00","s":"ChZT","v":165,"g":1},{"t":"2010-07-27T05:30","s":"ChZT","v":142,"g":1},{"t":"2010-07-27T06:06","s":"ChZT","v":130,"g":1},{"t":"2010-07-27T06:30","s":"ChZT","v":140,"g":1},{"t":"2010-07-27T06:48","s":"ChZT","v":298,"g":1},{"t":"2010-07-27T07:00","s":"ChZT","v":196,"g":1},{"t":"2010-07-27T07:18","s":"ChZT","v":158,"g":1},{"t":"2010-07-27T07:30","s":"ChZT","v":217,"g":1},{"t":"2010-07-27T07:42","s":"ChZT","v":142,"g":1},{"t":"2010-07-27T08:00","s":"ChZT","v":203,"g":1},{"t":"2010-07-27T08:18","s":"ChZT","v":238,"g":1},{"t":"2010-07-27T08:48","s":"ChZT","v":335,"g":1},{"t":"2010-07-27T09:24","s":"ChZT","v":375,"g":1},{"t":"2010-07-27T09:36","s":"ChZT","v":478,"g":1},{"t":"2010-07-27T10:12","s":"ChZT","v":503,"g":1},{"t":"2010-07-27T10:42","s":"ChZT","v":594,"g":1},{"t":"2010-07-27T11:00","s":"ChZT","v":553,"g":1},{"t":"2010-07-27T11:18","s":"ChZT","v":576,"g":1},{"t":"2010-07-27T11:48","s":"ChZT","v":532,"g":1},{"t":"2010-07-27T12:18","s":"ChZT","v":576,"g":1},{"t":"2010-07-27T12:54","s":"ChZT","v":553,"g":1},{"t":"2010-07-27T13:12","s":"ChZT","v":511,"g":1},{"t":"2010-07-27T13:42","s":"ChZT","v":478,"g":1},{"t":"2010-07-27T14:18","s":"ChZT","v":559,"g":1},{"t":"2010-07-27T14:36","s":"ChZT","v":478,"g":1},{"t":"2010-07-27T15:06","s":"ChZT","v":448,"g":1},{"t":"2010-07-27T15:36","s":"ChZT","v":494,"g":1},{"t":"2010-07-27T15:54","s":"ChZT","v":434,"g":1},{"t":"2010-07-27T16:24","s":"ChZT","v":478,"g":1},{"t":"2010-07-27T17:00","s":"ChZT","v":518,"g":1},{"t":"2010-07-27T17:30","s":"ChZT","v":420,"g":1},{"t":"2010-07-27T17:48","s":"ChZT","v":375,"g":1},{"t":"2010-07-27T18:21","s":"ChZT","v":398,"g":1},{"t":"2010-07-27T18:54","s":"ChZT","v":358,"g":1},{"t":"2010-07-27T19:24","s":"ChZT","v":350,"g":1},{"t":"2010-07-27T20:00","s":"ChZT","v":302,"g":1},{"t":"2010-07-27T20:30","s":"ChZT","v":238,"g":1},{"t":"2010-07-27T20:48","s":"ChZT","v":158,"g":1},{"t":"2010-07-27T21:06","s":"ChZT","v":62,"g":1},{"t":"2010-07-27T21:36","s":"ChZT","v":55,"g":1},{"t":"2010-07-27T22:24","s":"ChZT","v":56,"g":1},
{"t":"2010-07-28T12:12","s":"ChZT","v":67,"g":2},{"t":"2010-07-28T12:54","s":"ChZT","v":167,"g":2},{"t":"2010-07-28T13:24","s":"ChZT","v":207,"g":2},{"t":"2010-07-28T13:54","s":"ChZT","v":189,"g":2},{"t":"2010-07-28T14:18","s":"ChZT","v":224,"g":2},{"t":"2010-07-28T14:48","s":"ChZT","v":207,"g":2},{"t":"2010-07-28T15:18","s":"ChZT","v":270,"g":2},{"t":"2010-07-28T16:06","s":"ChZT","v":282,"g":2},{"t":"2010-07-28T16:36","s":"ChZT","v":270,"g":2},{"t":"2010-07-28T17:12","s":"ChZT","v":335,"g":2},{"t":"2010-07-28T17:30","s":"ChZT","v":273,"g":2},{"t":"2010-07-28T17:48","s":"ChZT","v":223,"g":2},{"t":"2010-07-28T18:18","s":"ChZT","v":210,"g":2},{"t":"2010-07-28T18:54","s":"ChZT","v":142,"g":2},{"t":"2010-07-28T19:24","s":"ChZT","v":111,"g":2},{"t":"2010-07-28T20:00","s":"ChZT","v":174,"g":2},{"t":"2010-07-28T20:30","s":"ChZT","v":207,"g":2},{"t":"2010-07-28T21:06","s":"ChZT","v":230,"g":2},{"t":"2010-07-28T21:36","s":"ChZT","v":235,"g":2},{"t":"2010-07-28T22:06","s":"ChZT","v":298,"g":2},{"t":"2010-07-28T22:24","s":"ChZT","v":245,"g":2},{"t":"2010-07-28T23:12","s":"ChZT","v":223,"g":2},{"t":"2010-07-29T00:00","s":"ChZT","v":207,"g":2},{"t":"2010-07-29T00:54","s":"ChZT","v":174,"g":2},{"t":"2010-07-29T01:42","s":"ChZT","v":142,"g":2},{"t":"2010-07-29T02:30","s":"ChZT","v":111,"g":2},{"t":"2010-07-29T03:36","s":"ChZT","v":86,"g":2},{"t":"2010-07-29T04:24","s":"ChZT","v":74,"g":2},{"t":"2010-07-29T05:00","s":"ChZT","v":91,"g":2},{"t":"2010-07-29T05:48","s":"ChZT","v":55,"g":2},{"t":"2010-07-29T06:24","s":"ChZT","v":60,"g":2},{"t":"2010-07-29T06:42","s":"ChZT","v":119,"g":2},{"t":"2010-07-29T06:54","s":"ChZT","v":151,"g":2},{"t":"2010-07-29T07:06","s":"ChZT","v":86,"g":2},{"t":"2010-07-29T07:24","s":"ChZT","v":91,"g":2}
 ]
},
"vconcat": [
 {
  "title": {"text": "Rys. 2. Występowanie pierwszej fali zanieczyszczeń dla wskaźnika ChZT", "orient": "bottom", "anchor": "middle", "font": "Liberation Serif", "fontSize": 22.6, "fontWeight": "normal", "color": "black", "offset": 21},
  "resolve": {"scale": {"color": "independent"}, "legend": {"color": "independent"}},
  "vconcat": [
   {
    "width": 726, "height": 486,
    "title": {"text": "Słaby opad 31.08/1.09.2010", "font": "Lato", "fontSize": 25, "fontWeight": "bold", "color": "black", "anchor": "middle", "dx": 60, "offset": -58},
    "data": {"name": "d1"},
    "layer": [
     {
      "transform": [{"filter": "datum.s != 'ChZT'"}],
      "mark": {"type": "line"},
      "encoding": {
       "x": {"field": "t", "type": "temporal",
             "scale": {"domain": [{"year": 2010, "month": 8, "date": 31, "hours": 0}, {"year": 2010, "month": 9, "date": 1, "hours": 12}], "range": [68, 651], "nice": false},
             "axis": {"orient": "bottom", "offset": -147, "values": [{"year": 2010, "month": 8, "date": 31, "hours": 0}, {"year": 2010, "month": 8, "date": 31, "hours": 4}, {"year": 2010, "month": 8, "date": 31, "hours": 8}, {"year": 2010, "month": 8, "date": 31, "hours": 12}, {"year": 2010, "month": 8, "date": 31, "hours": 16}, {"year": 2010, "month": 8, "date": 31, "hours": 20}, {"year": 2010, "month": 9, "date": 1, "hours": 0}, {"year": 2010, "month": 9, "date": 1, "hours": 4}, {"year": 2010, "month": 9, "date": 1, "hours": 8}, {"year": 2010, "month": 9, "date": 1, "hours": 12}], "format": "%Y-%m-%d %H:%M", "labelAngle": 270, "labelPadding": 4, "tickSize": 5, "labelFlush": false, "labelOverlap": false, "grid": false, "title": "Czas [h]", "titleX": 397, "titleY": 130, "titleBaseline": "middle"}},
       "y": {"field": "v", "type": "quantitative",
             "scale": {"domain": [0, 6], "range": [339, 61], "nice": false, "zero": false},
             "axis": {"orient": "left", "offset": -68, "values": [0, 1, 2, 3, 4, 5, 6], "grid": true, "labelPadding": 9, "title": "Q [m3/s]", "titleAngle": 270, "titleX": -36, "titleY": 225, "titleBaseline": "middle"}},
       "color": {"field": "s", "type": "nominal",
             "scale": {"domain": ["Q", "Q.sucha", "Q.opad", "ChZT"], "range": ["#5a5a5a", "#adadad", "#7c7c7c", "#454545"]},
             "legend": {"title": null, "orient": "none", "legendX": 506.5, "legendY": 64.4, "symbolType": "stroke", "symbolSize": 702, "symbolStrokeWidth": 3, "labelOffset": 3, "rowPadding": 0}},
       "detail": {"field": "g", "type": "nominal"}
      }
     },
     {
      "transform": [{"filter": "datum.s == 'ChZT'"}],
      "mark": {"type": "line"},
      "encoding": {
       "x": {"field": "t", "type": "temporal"},
       "y": {"field": "v", "type": "quantitative",
             "scale": {"domain": [0, 1000], "range": [339, 61], "nice": false},
             "axis": {"orient": "right", "offset": -75, "values": [0, 100, 200, 300, 400, 500, 600, 700, 800, 900, 1000], "format": "d", "grid": false, "labelPadding": 9, "title": "ChZT [g/m³]", "titleAngle": 270, "titleX": 62, "titleY": 200, "titleBaseline": "middle"}},
       "color": {"field": "s", "type": "nominal"}
      }
     }
    ],
    "resolve": {"scale": {"y": "independent"}}
   }
  ]
 },
 {
  "title": {"text": "Rys. 3. Występowanie pierwszej fali zanieczyszczeń dla wskaźnika ChZT", "orient": "bottom", "anchor": "middle", "font": "Liberation Serif", "fontSize": 22.6, "fontWeight": "normal", "color": "black", "offset": 19},
  "resolve": {"scale": {"color": "independent"}, "legend": {"color": "independent"}},
  "vconcat": [
   {
    "width": 727, "height": 504,
    "title": {"text": "Fala intensywnych opadów 27/28.07.2010", "font": "Lato", "fontSize": 25.5, "fontWeight": "bold", "color": "black", "anchor": "middle", "dx": 79, "offset": -55},
    "data": {"name": "d2"},
    "layer": [
     {
      "transform": [{"filter": "datum.s != 'ChZT'"}],
      "mark": {"type": "line"},
      "encoding": {
       "x": {"field": "t", "type": "temporal",
             "scale": {"domain": [{"year": 2010, "month": 7, "date": 26, "hours": 12}, {"year": 2010, "month": 7, "date": 30, "hours": 12}], "range": [57, 644], "nice": false},
             "axis": {"orient": "bottom", "offset": -151, "values": [{"year": 2010, "month": 7, "date": 26, "hours": 12}, {"year": 2010, "month": 7, "date": 27, "hours": 0}, {"year": 2010, "month": 7, "date": 27, "hours": 12}, {"year": 2010, "month": 7, "date": 28, "hours": 0}, {"year": 2010, "month": 7, "date": 28, "hours": 12}, {"year": 2010, "month": 7, "date": 29, "hours": 0}, {"year": 2010, "month": 7, "date": 29, "hours": 12}, {"year": 2010, "month": 7, "date": 30, "hours": 0}, {"year": 2010, "month": 7, "date": 30, "hours": 12}], "format": "%Y-%m-%d %H:%M", "labelAngle": 270, "labelPadding": 4, "tickSize": 5, "labelFlush": false, "labelOverlap": false, "grid": false, "title": "Czas [h]", "titleX": 382, "titleY": 130, "titleBaseline": "middle"}},
       "y": {"field": "v", "type": "quantitative",
             "scale": {"domain": [0, 10], "range": [353, 62], "nice": false, "zero": false},
             "axis": {"orient": "left", "offset": -57, "values": [0, 1, 2, 3, 4, 5, 6, 7, 8, 9, 10], "grid": true, "labelPadding": 9, "title": "Q [m3/s]", "titleAngle": 270, "titleX": -32, "titleY": 246, "titleBaseline": "middle"}},
       "color": {"field": "s", "type": "nominal",
             "scale": {"domain": ["Q", "Q.opad", "ChZT"], "range": ["#5c5c5c", "#3d3d3d", "#a9a9a9"]},
             "legend": {"title": null, "orient": "none", "legendX": 480, "legendY": 65.4, "symbolType": "stroke", "symbolSize": 900, "symbolStrokeWidth": 3, "labelOffset": 3, "rowPadding": 3.8}}
      }
     },
     {
      "transform": [{"filter": "datum.s == 'ChZT'"}],
      "mark": {"type": "line"},
      "encoding": {
       "x": {"field": "t", "type": "temporal"},
       "y": {"field": "v", "type": "quantitative",
             "scale": {"domain": [0, 700], "range": [353, 62], "nice": false},
             "axis": {"orient": "right", "offset": -83, "values": [0, 100, 200, 300, 400, 500, 600, 700], "format": "d", "grid": false, "labelPadding": 9, "title": "ChZT [g/m3]", "titleAngle": 270, "titleX": 63, "titleY": 238, "titleBaseline": "middle"}},
       "color": {"field": "s", "type": "nominal"},
       "detail": {"field": "g", "type": "nominal"}
      }
     }
    ],
    "resolve": {"scale": {"y": "independent"}}
   }
  ]
 }
]
}
